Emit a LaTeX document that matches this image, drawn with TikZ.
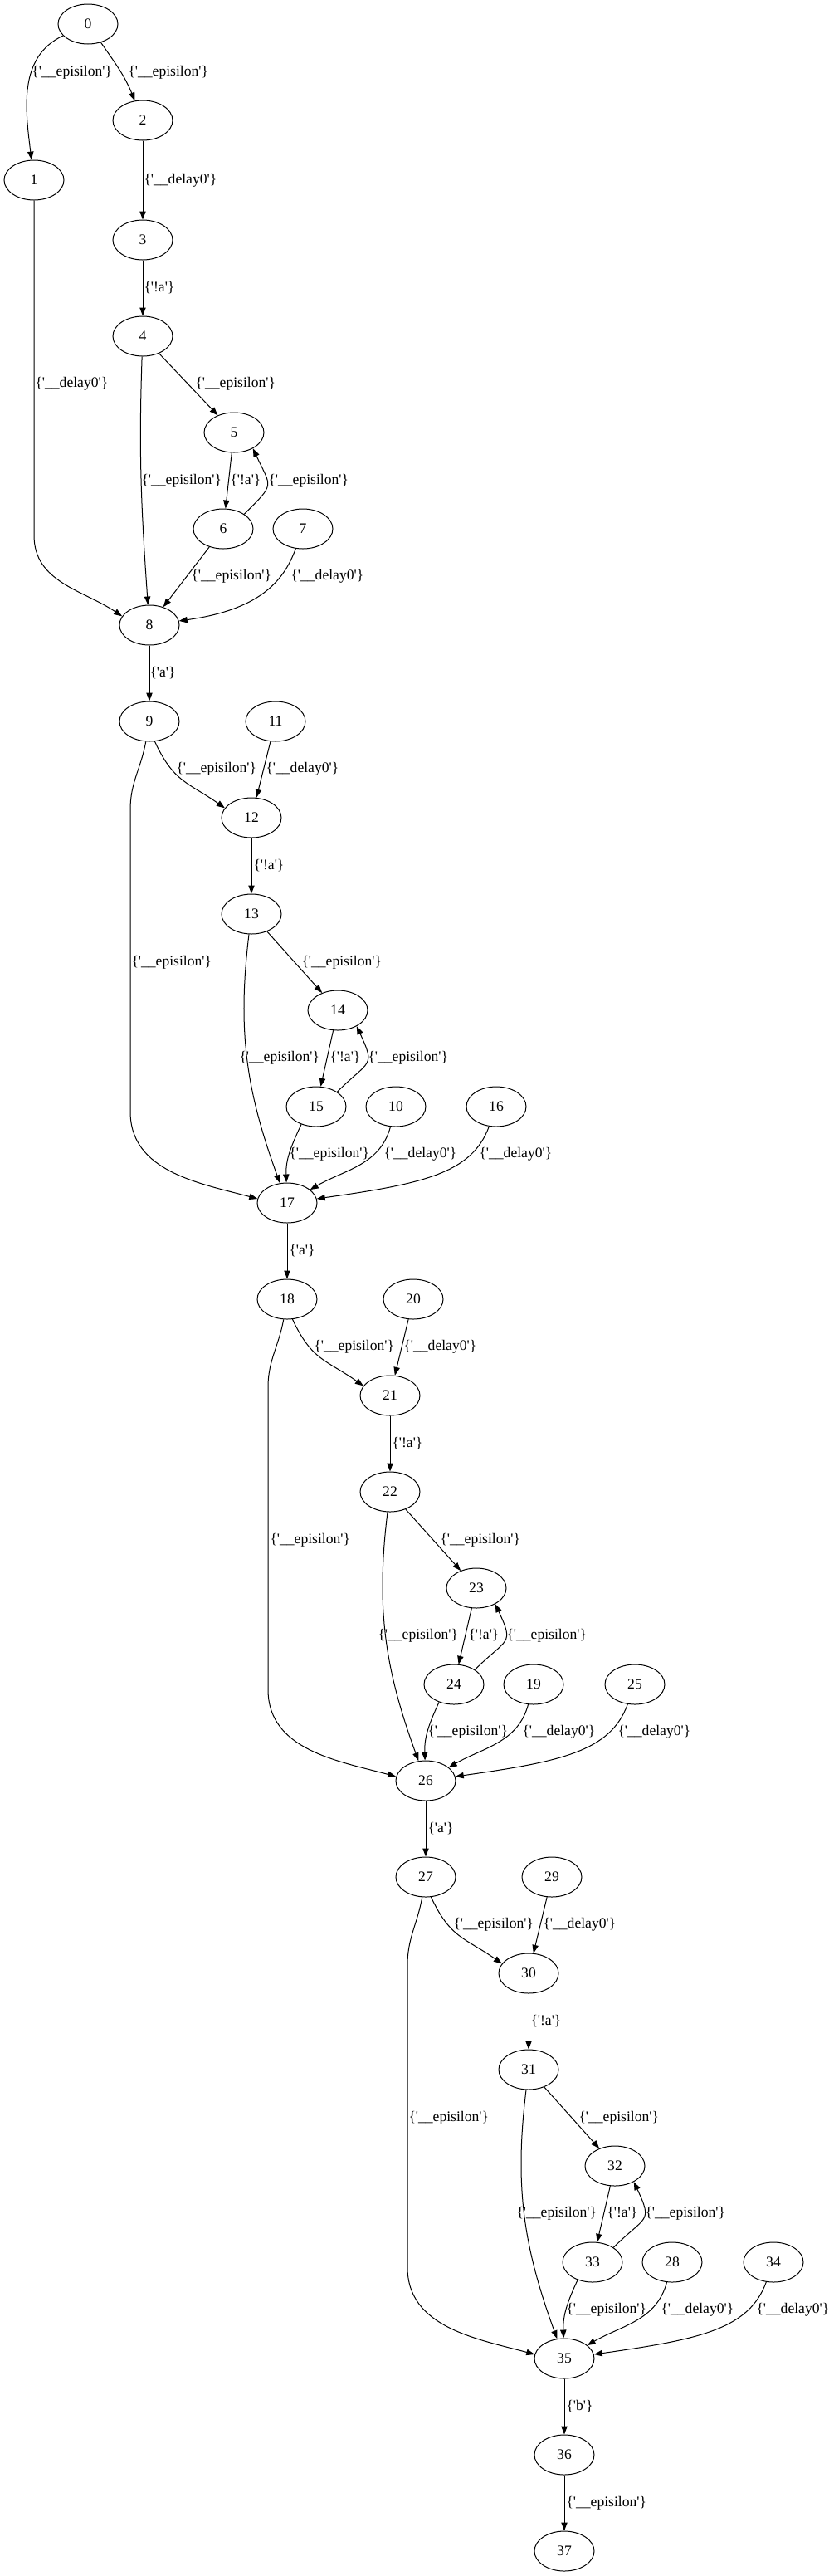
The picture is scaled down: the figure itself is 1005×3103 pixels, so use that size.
\documentclass[tikz,border=0pt]{standalone}
\usepackage{fontspec}
\setmainfont{Liberation Serif}
\usetikzlibrary{shapes.geometric}
\usetikzlibrary{arrows.meta}

\newcommand{\lab}[1]{\{\textquotesingle#1\textquotesingle\}}
\newcommand{\eps}{\lab{\_\_episilon}}
\newcommand{\dly}{\lab{\_\_delay0}}

\begin{document}
\begin{tikzpicture}[
        x=0.75pt, y=0.75pt,
        >={Triangle[length=7.5pt,width=5.5pt]},
        line width=0.75pt,
        state/.style={draw, ellipse, minimum width=54pt,
                      minimum height=36pt, inner sep=0pt,
                      font=\fontsize{13.2}{15}\selectfont},
        lbl/.style={anchor=west, inner sep=0pt,
                    font=\fontsize{13.2}{15}\selectfont},
        sidein/.style={out=-65, in=145, looseness=1.2},
        backloop/.style={out=45, in=-65, looseness=1.7},
        sweep/.style={out=-110, in=8, out looseness=0.68, in looseness=1.48}
    ]
    \useasboundingbox (0,0) rectangle (1005,-3103);

    % ------- states (top part) -------
    \node[state] (s0) at (106,-29) {0};
    \node[state] (s1) at (41,-217) {1};
    \node[state] (s2) at (172,-145) {2};
    \node[state] (s3) at (172,-289) {3};
    \node[state] (s4) at (172,-405) {4};
    \node[state] (s5) at (282,-521) {5};
    \node[state] (s6) at (269,-637) {6};
    \node[state] (s7) at (365,-637) {7};
    \node[state] (s8) at (180,-753) {8};

    % ------- states (first loop) -------
    \node[state] (s9) at (180,-869) {9};
    \node[state] (s11) at (332,-869) {11};
    \node[state] (s12) at (303,-985) {12};
    \node[state] (s13) at (303,-1101) {13};
    \node[state] (s14) at (407,-1217) {14};
    \node[state] (s15) at (381,-1333) {15};
    \node[state] (s10) at (477,-1333) {10};
    \node[state] (s16) at (598,-1333) {16};
    \node[state] (s17) at (346,-1449) {17};

    % ------- states (second loop) -------
    \node[state] (s18) at (346,-1565) {18};
    \node[state] (s20) at (498,-1565) {20};
    \node[state] (s21) at (470,-1681) {21};
    \node[state] (s22) at (470,-1797) {22};
    \node[state] (s23) at (574,-1913) {23};
    \node[state] (s24) at (547,-2029) {24};
    \node[state] (s19) at (643,-2029) {19};
    \node[state] (s25) at (765,-2029) {25};
    \node[state] (s26) at (513,-2145) {26};

    % ------- states (third loop) -------
    \node[state] (s27) at (513,-2261) {27};
    \node[state] (s29) at (665,-2261) {29};
    \node[state] (s30) at (637,-2377) {30};
    \node[state] (s31) at (637,-2493) {31};
    \node[state] (s32) at (741,-2609) {32};
    \node[state] (s33) at (714,-2725) {33};
    \node[state] (s28) at (810,-2725) {28};
    \node[state] (s34) at (932,-2725) {34};
    \node[state] (s35) at (680,-2841) {35};
    \node[state] (s36) at (680,-2957) {36};
    \node[state] (s37) at (680,-3073) {37};

    % ------- transitions (top part) -------
    \draw[->] (s0) to[out=205,in=97] (s1) node[lbl] at (38,-87) {\eps};
    \draw[->] (s0) to[out=-55,in=112] (s2) node[lbl] at (154,-87) {\eps};
    \draw[->] (s2) -- (s3) node[lbl] at (173,-217) {\dly};
    \draw[->] (s3) -- (s4) node[lbl] at (173,-347) {\lab{!a}};
    \draw[->] (s1) -- (41,-645) to[out=-90,in=146] (s8.162)
        node[lbl] at (42,-462) {\dly};
    \draw[->] (s4) to[out=-92,in=94] (s8) node[lbl] at (170,-579) {\eps};
    \draw[->] (s4) -- (s5) node[lbl] at (235,-462) {\eps};
    \draw[->] (s5) -- (s6) node[lbl] at (277,-579) {\lab{!a}};
    \draw[->] (s6.35) to[backloop] (s5.-40) node[lbl] at (323,-579) {\eps};
    \draw[->] (s6) -- (s8) node[lbl] at (230,-694) {\eps};
    \draw[->] (s7) to[sweep] (s8) node[lbl] at (350,-694) {\dly};
    \draw[->] (s8) -- (s9) node[lbl] at (180,-811) {\lab{a}};

    % ------- transitions (first loop) -------
    \draw[->] (s9.-75) to[sidein] (s12.160) node[lbl] at (212,-926) {\eps};
    \draw[->] (s11) -- (s12) node[lbl] at (320,-926) {\dly};
    \draw[->] (s12) -- (s13) node[lbl] at (305,-1043) {\lab{!a}};
    \draw[->] (s13) -- (s14) node[lbl] at (363,-1159) {\eps};
    \draw[->] (s9) to[out=-100,in=90] (157,-975) -- (157,-1339)
        to[out=-90,in=165] (s17.172) node[lbl] at (158,-1159) {\eps};
    \draw[->] (s13) to[out=-97,in=110] (s17) node[lbl] at (288,-1274) {\eps};
    \draw[->] (s14) -- (s15) node[lbl] at (397,-1274) {\lab{!a}};
    \draw[->] (s15.35) to[backloop] (s14.-40) node[lbl] at (443,-1274) {\eps};
    \draw[->] (s15.-130) to[out=-115,in=92] (s17) node[lbl] at (348,-1390) {\eps};
    \draw[->] (s10) to[out=-105,in=30] (s17) node[lbl] at (462,-1390) {\dly};
    \draw[->] (s16) to[sweep] (s17) node[lbl] at (577,-1390) {\dly};
    \draw[->] (s17) -- (s18) node[lbl] at (348,-1507) {\lab{a}};

    % ------- transitions (second loop) -------
    \draw[->] (s18.-75) to[sidein] (s21.160) node[lbl] at (378,-1622) {\eps};
    \draw[->] (s20) -- (s21) node[lbl] at (486,-1622) {\dly};
    \draw[->] (s21) -- (s22) node[lbl] at (472,-1739) {\lab{!a}};
    \draw[->] (s22) -- (s23) node[lbl] at (530,-1855) {\eps};
    \draw[->] (s18) to[out=-100,in=90] (323,-1671) -- (323,-2035)
        to[out=-90,in=165] (s26.172) node[lbl] at (325,-1855) {\eps};
    \draw[->] (s22) to[out=-97,in=110] (s26) node[lbl] at (455,-1970) {\eps};
    \draw[->] (s23) -- (s24) node[lbl] at (564,-1970) {\lab{!a}};
    \draw[->] (s24.35) to[backloop] (s23.-40) node[lbl] at (610,-1970) {\eps};
    \draw[->] (s24.-130) to[out=-115,in=92] (s26) node[lbl] at (515,-2086) {\eps};
    \draw[->] (s19) to[out=-105,in=30] (s26) node[lbl] at (629,-2086) {\dly};
    \draw[->] (s25) to[sweep] (s26) node[lbl] at (744,-2086) {\dly};
    \draw[->] (s26) -- (s27) node[lbl] at (515,-2203) {\lab{a}};

    % ------- transitions (third loop) -------
    \draw[->] (s27.-75) to[sidein] (s30.160) node[lbl] at (546,-2318) {\eps};
    \draw[->] (s29) -- (s30) node[lbl] at (654,-2318) {\dly};
    \draw[->] (s30) -- (s31) node[lbl] at (639,-2435) {\lab{!a}};
    \draw[->] (s31) -- (s32) node[lbl] at (697,-2551) {\eps};
    \draw[->] (s27) to[out=-100,in=90] (491,-2367) -- (491,-2731)
        to[out=-90,in=165] (s35.172) node[lbl] at (492,-2551) {\eps};
    \draw[->] (s31) to[out=-97,in=110] (s35) node[lbl] at (622,-2666) {\eps};
    \draw[->] (s32) -- (s33) node[lbl] at (731,-2666) {\lab{!a}};
    \draw[->] (s33.35) to[backloop] (s32.-40) node[lbl] at (777,-2666) {\eps};
    \draw[->] (s33.-130) to[out=-115,in=92] (s35) node[lbl] at (682,-2782) {\eps};
    \draw[->] (s28) to[out=-105,in=30] (s35) node[lbl] at (796,-2782) {\dly};
    \draw[->] (s34) to[sweep] (s35) node[lbl] at (911,-2782) {\dly};

    % ------- tail -------
    \draw[->] (s35) -- (s36) node[lbl] at (682,-2899) {\lab{b}};
    \draw[->] (s36) -- (s37) node[lbl] at (682,-3015) {\eps};

\end{tikzpicture}
\end{document}
